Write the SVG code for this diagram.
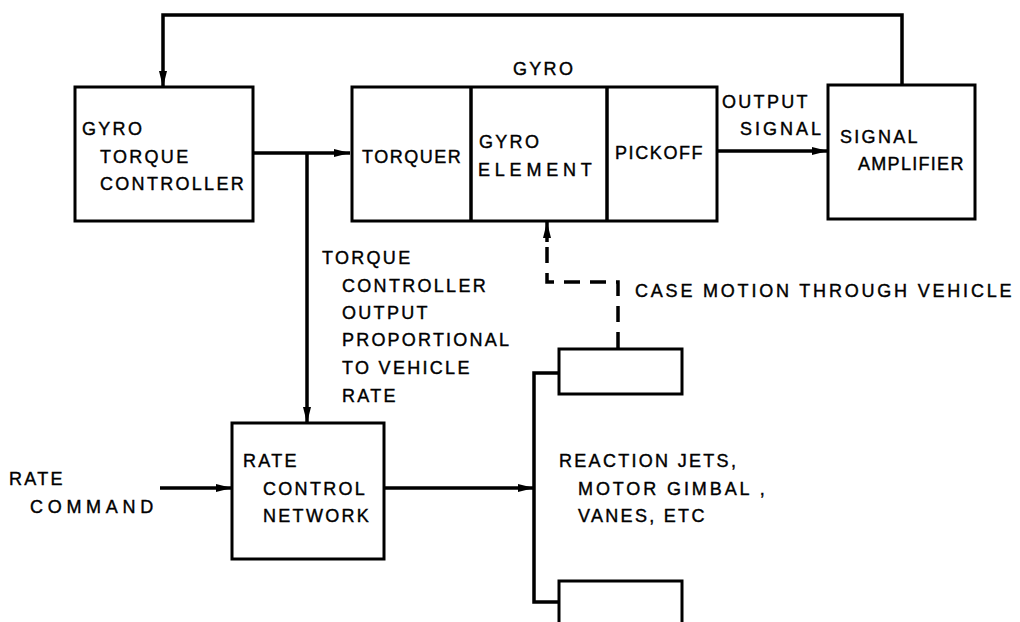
<svg xmlns="http://www.w3.org/2000/svg" width="1020" height="622" viewBox="0 0 1020 622">
<style>
.box{fill:#fff;stroke:#000;stroke-width:3}
.ln{fill:none;stroke:#000;stroke-width:3.5}
.dash{fill:none;stroke:#000;stroke-width:3.5;stroke-dasharray:16 10}
text{font-family:"Liberation Sans",Arial,sans-serif;font-size:18px;letter-spacing:2.3px;fill:#000;stroke:#000;stroke-width:0.4}
</style>
<defs>
<marker id="arr" viewBox="0 0 16 10" refX="16" refY="5" markerWidth="16" markerHeight="10" markerUnits="userSpaceOnUse" orient="auto">
<path d="M0,1 L16,5 L0,9 Z" fill="#000"/>
</marker>
</defs>
<rect width="1020" height="622" fill="#fff"/>
<g id="connectors">
<path class="ln" d="M902,85 V15 H163 V87" marker-end="url(#arr)"/>
<path class="ln" d="M253,153 H350" marker-end="url(#arr)"/>
<path class="ln" d="M307,153 V423" marker-end="url(#arr)"/>
<path class="ln" d="M717,151 H828" marker-end="url(#arr)"/>
<path class="ln" d="M160,488 H232" marker-end="url(#arr)"/>
<path class="ln" d="M384,488 H534" marker-end="url(#arr)"/>
<path class="ln" d="M559,373 H534 V602 H559"/>
<path class="dash" d="M618,348 V282 H547 V240"/>
<path class="ln" d="M547,242 V222" marker-end="url(#arr)"/>
</g>
<g id="gyro-torque-controller">
<rect class="box" x="75" y="87" width="178" height="134"/>
<text x="82" y="135">GYRO</text>
<text x="100" y="163">TORQUE</text>
<text x="100" y="190">CONTROLLER</text>
</g>
<g id="gyro">
<text x="513" y="75">GYRO</text>
<rect class="box" x="352" y="87" width="365" height="134"/>
<line class="ln" x1="471" y1="87" x2="471" y2="221"/>
<line class="ln" x1="607" y1="87" x2="607" y2="221"/>
<text x="362" y="163" style="letter-spacing:1.5px">TORQUER</text>
<text x="479" y="148">GYRO</text>
<text x="478" y="176" style="letter-spacing:4.8px">ELEMENT</text>
<text x="615" y="159" style="letter-spacing:1.6px">PICKOFF</text>
</g>
<g id="output-signal-label">
<text x="722" y="108">OUTPUT</text>
<text x="740" y="135" style="letter-spacing:3px">SIGNAL</text>
</g>
<g id="signal-amplifier">
<rect class="box" x="828" y="85" width="147" height="134"/>
<text x="840" y="143">SIGNAL</text>
<text x="858" y="170" style="letter-spacing:1.3px">AMPLIFIER</text>
</g>
<g id="torque-label">
<text x="322" y="264">TORQUE</text>
<text x="342" y="292">CONTROLLER</text>
<text x="342" y="319">OUTPUT</text>
<text x="342" y="346" style="letter-spacing:2.2px">PROPORTIONAL</text>
<text x="342" y="374">TO VEHICLE</text>
<text x="342" y="402">RATE</text>
</g>
<g id="case-motion-label">
<text x="635" y="297" style="letter-spacing:2.8px">CASE MOTION THROUGH VEHICLE</text>
</g>
<g id="rate-command-label">
<text x="9" y="485">RATE</text>
<text x="30" y="513" style="letter-spacing:4.7px">COMMAND</text>
</g>
<g id="rate-control-network">
<rect class="box" x="232" y="423" width="152" height="136"/>
<text x="243" y="467">RATE</text>
<text x="263" y="495">CONTROL</text>
<text x="263" y="522">NETWORK</text>
</g>
<g id="actuator-upper">
<rect class="box" x="559" y="349" width="123" height="45"/>
</g>
<g id="actuator-lower">
<rect class="box" x="559" y="581" width="123" height="60"/>
</g>
<g id="reaction-label">
<text x="559" y="467">REACTION JETS,</text>
<text x="578" y="495" style="letter-spacing:2.9px">MOTOR GIMBAL ,</text>
<text x="578" y="522">VANES, ETC</text>
</g>
</svg>
